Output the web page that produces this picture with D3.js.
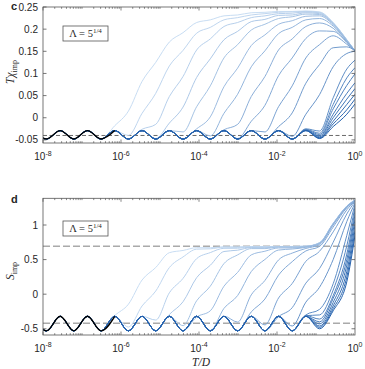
<!DOCTYPE html>
<html>
<head>
<script src="https://d3js.org/d3.v7.min.js"></script>
<style>
  body { margin: 0; background: #fff; }
  text { font-family: "Liberation Sans", Arial, sans-serif; fill: #262626; }
  .math { font-family: "Liberation Serif", "Times New Roman", serif; }
</style>
</head>
<body>
<div id="chart"></div>
<script>
// log10(T/D) sample points: alternating peaks and troughs of the even/odd wiggle
const logT = [-8.26,-7.91,-7.56,-7.21,-6.86,-6.51,-6.16,-5.81,-5.46,-5.11,-4.76,-4.41,-4.06,
              -3.71,-3.36,-3.01,-2.66,-2.31,-1.96,-1.61,-1.26,-0.91,-0.56,-0.21,0];

// panel c: T chi_imp
const chiBase = [-0.029,-0.048,-0.029,-0.048,-0.029,-0.048,-0.029,-0.048,-0.029,-0.048,-0.029,-0.048,-0.029,
                 -0.048,-0.029,-0.048,-0.029,-0.048,-0.029,-0.048,-0.029,-0.048,-0.029,-0.048,-0.029];
const chiBlack = [-0.029,-0.048,-0.029,-0.048,-0.029,-0.048,-0.029];
// each curve leaves the common baseline, the tail holds the last values
const chiTails = [
  [-0.018,0.015,0.082,0.125,0.171,0.192,0.215,0.221,0.230,0.232,0.237,0.238,0.240,0.240,0.241,0.239,0.215,0.176,0.151],
  [-0.040,0.010,0.055,0.117,0.152,0.191,0.204,0.221,0.226,0.232,0.235,0.238,0.239,0.240,0.238,0.214,0.176,0.151],
  [-0.026,-0.015,0.048,0.093,0.153,0.178,0.206,0.215,0.226,0.230,0.235,0.236,0.239,0.237,0.214,0.176,0.151],
  [-0.047,-0.012,0.024,0.091,0.133,0.176,0.195,0.217,0.222,0.231,0.232,0.237,0.235,0.213,0.175,0.151],
  [-0.029,-0.032,0.025,0.072,0.135,0.165,0.198,0.211,0.224,0.228,0.234,0.233,0.212,0.175,0.151],
  [-0.048,-0.025,0.002,0.070,0.112,0.163,0.187,0.211,0.219,0.229,0.230,0.210,0.174,0.151],
  [-0.029,-0.041,0.010,0.053,0.115,0.151,0.190,0.204,0.221,0.224,0.207,0.173,0.151],
  [-0.048,-0.027,-0.015,0.048,0.093,0.153,0.178,0.206,0.214,0.202,0.171,0.151],
  [-0.029,-0.047,-0.008,0.028,0.095,0.135,0.179,0.196,0.195,0.170,0.151],
  [-0.029,-0.032,0.025,0.072,0.135,0.165,0.185,0.166,0.151],
  [-0.020,0.011,0.078,0.120,0.158,0.160,0.151],
  [-0.042,0.008,0.052,0.115,0.145,0.150],
  [-0.025,-0.030,0.045,0.110,0.130],
  [-0.026,-0.035,0.030,0.090,0.113],
  [-0.027,-0.038,0.020,0.073,0.099],
  [-0.028,-0.041,0.008,0.055,0.079],
  [-0.028,-0.043,0.000,0.042,0.066],
  [-0.029,-0.045,-0.008,0.030,0.053],
  [-0.029,-0.046,-0.014,0.018,0.042],
  [-0.029,-0.047,-0.020,0.008,0.031]
];
const chiDash = [-0.04];
const chiTicks = [-0.05,0,0.05,0.1,0.15,0.2,0.25];
const chiTickLabels = ["-0.05","0","0.05","0.1","0.15","0.2","0.25"];

// panel d: S_imp
const sBase = [-0.32,-0.53,-0.32,-0.53,-0.32,-0.53,-0.32,-0.53,-0.32,-0.53,-0.32,-0.53,-0.32,
               -0.53,-0.32,-0.53,-0.32,-0.53,-0.32,-0.53,-0.32,-0.53,-0.32,-0.53,-0.32];
const sBlack = [-0.32,-0.53,-0.32,-0.53,-0.32,-0.53,-0.32];
const sTails = [
  [-0.31,-0.145,0.205,0.385,0.60,0.632,0.672,0.672,0.684,0.684,0.689,0.689,0.690,0.690,0.694,0.745,1.025,1.275,1.365],
  [-0.475,-0.17,0.045,0.385,0.538,0.651,0.656,0.68,0.677,0.687,0.686,0.689,0.689,0.693,0.743,1.023,1.273,1.363],
  [-0.32,-0.374,0.02,0.228,0.514,0.601,0.663,0.664,0.681,0.681,0.688,0.688,0.692,0.742,1.02,1.27,1.36],
  [-0.528,-0.293,-0.11,0.239,0.418,0.617,0.636,0.674,0.671,0.685,0.684,0.69,0.74,1.02,1.27,1.36],
  [-0.32,-0.455,-0.095,0.116,0.442,0.568,0.659,0.659,0.682,0.678,0.688,0.738,1.018,1.268,1.36],
  [-0.53,-0.33,-0.24,0.115,0.315,0.568,0.621,0.668,0.668,0.686,0.735,1.015,1.267,1.36],
  [-0.32,-0.525,-0.205,-0.02,0.327,0.502,0.638,0.653,0.677,0.728,1.01,1.265,1.358],
  [-0.53,-0.317,-0.403,-0.01,0.198,0.495,0.594,0.661,0.715,1.0,1.26,1.355],
  [-0.32,-0.527,-0.256,-0.07,0.276,0.47,0.625,0.69,0.97,1.25,1.35],
  [-0.32,-0.443,-0.055,0.155,0.475,0.62,0.9,1.22,1.345],
  [-0.325,-0.195,0.16,0.37,0.75,1.16,1.34],
  [-0.46,-0.115,0.10,0.5,1.05,1.32],
  [-0.30,-0.22,0.15,0.85,1.30],
  [-0.31,-0.30,0.06,0.70,1.26],
  [-0.31,-0.36,-0.02,0.58,1.21],
  [-0.32,-0.40,-0.06,0.50,1.15],
  [-0.32,-0.43,-0.12,0.42,1.08],
  [-0.32,-0.46,-0.17,0.33,1.00],
  [-0.32,-0.48,-0.21,0.25,0.92],
  [-0.32,-0.50,-0.24,0.18,0.85]
];
const sDash = [0.693, -0.42];
const sTicks = [-0.5,0,0.5,1];
const sTickLabels = ["-0.5","0","0.5","1"];

const xExp = [-8,-6,-4,-2,0];

const svg = d3.select("#chart").append("svg")
    .attr("width", 365)
    .attr("height", 369);

const x = d3.scaleLog().domain([1e-8, 1]).range([43, 355]);
const blue = d3.interpolateRgb("#c8ddf3", "#2461ad");

function drawPanel(p) {
  const y = d3.scaleLinear().domain(p.ydom).range([p.bottom, p.top]);
  const g = svg.append("g");

  svg.append("clipPath").attr("id", "clip" + p.id)
    .append("rect")
    .attr("x", x.range()[0]).attr("y", p.top)
    .attr("width", x.range()[1] - x.range()[0]).attr("height", p.bottom - p.top);

  const plot = g.append("g").attr("clip-path", `url(#clip${p.id})`);

  plot.selectAll(".dash").data(p.dash).enter().append("line")
    .attr("x1", x.range()[0]).attr("x2", x.range()[1])
    .attr("y1", d => y(d)).attr("y2", d => y(d))
    .attr("stroke", p.dashColor).attr("stroke-width", p.dashWidth)
    .attr("stroke-dasharray", p.dashArray);

  const line = d3.line()
    .x((d, i) => x(Math.pow(10, logT[i])))
    .y(d => y(d))
    .curve(d3.curveMonotoneX);

  const series = p.tails.map(t => p.base.slice(0, logT.length - t.length).concat(t));
  const n = series.length;
  plot.selectAll(".curve").data(series).enter().append("path")
    .attr("d", line)
    .attr("fill", "none")
    .attr("stroke", (d, i) => blue(i / (n - 1)))
    .attr("stroke-width", 1);

  plot.append("path")
    .attr("d", line(p.black))
    .attr("fill", "none")
    .attr("stroke", "#000")
    .attr("stroke-width", 1.4);

  // box and ticks (inside, mirrored like matlab)
  const [x0, x1] = x.range();
  g.append("rect")
    .attr("x", x0).attr("y", p.top)
    .attr("width", x1 - x0).attr("height", p.bottom - p.top)
    .attr("fill", "none").attr("stroke", "#555").attr("stroke-width", 0.8);

  p.ticks.forEach(v => {
    g.append("line").attr("x1", x0).attr("x2", x0 + 3.5).attr("y1", y(v)).attr("y2", y(v))
      .attr("stroke", "#555").attr("stroke-width", 0.8);
    g.append("line").attr("x1", x1).attr("x2", x1 - 3.5).attr("y1", y(v)).attr("y2", y(v))
      .attr("stroke", "#555").attr("stroke-width", 0.8);
  });
  g.selectAll(".ylab").data(p.ticks).enter().append("text")
    .attr("x", 38).attr("y", d => y(d)).attr("dy", "0.35em")
    .attr("text-anchor", "end").attr("font-size", 10)
    .text((d, i) => p.tickLabels[i]);

  for (let e = -8; e < 0; e++) {
    for (let m = 1; m < 10; m++) {
      const xv = x(m * Math.pow(10, e));
      const len = (m === 1 && e % 2 === 0) ? 3.5 : 1.8;
      g.append("line").attr("x1", xv).attr("x2", xv).attr("y1", p.bottom).attr("y2", p.bottom - len)
        .attr("stroke", "#555").attr("stroke-width", 0.7);
      g.append("line").attr("x1", xv).attr("x2", xv).attr("y1", p.top).attr("y2", p.top + len)
        .attr("stroke", "#555").attr("stroke-width", 0.7);
    }
  }
  xExp.forEach(e => {
    const t = g.append("text")
      .attr("x", x(Math.pow(10, e))).attr("y", p.xLabelY)
      .attr("text-anchor", "middle").attr("font-size", 10);
    t.append("tspan").text("10");
    t.append("tspan").attr("dy", -4.5).attr("font-size", 7).text(String(e));
  });

  // legend box
  g.append("rect")
    .attr("x", 63).attr("y", p.legendY)
    .attr("width", 45).attr("height", 15)
    .attr("fill", "#fff").attr("stroke", "#555").attr("stroke-width", 0.8);
  const lt = g.append("text").attr("class", "math")
    .attr("x", 85.5).attr("y", p.legendY + 11)
    .attr("text-anchor", "middle").attr("font-size", 10.5);
  lt.append("tspan").text("\u039B = 5");
  lt.append("tspan").attr("dy", -4).attr("font-size", 7).text("1/4");

  // panel letter
  g.append("text").attr("x", 11).attr("y", p.letterY)
    .attr("font-size", 11).attr("font-weight", "bold").attr("fill", "#000")
    .text(p.letter);

  // y label
  const yl = g.append("text").attr("class", "math")
    .attr("transform", `translate(14,${p.yLabelMid}) rotate(-90)`)
    .attr("text-anchor", "middle").attr("font-size", 11.5);
  p.yLabel(yl);
}

drawPanel({
  id: "c", top: 7, bottom: 143, ydom: [-0.057, 0.25],
  base: chiBase, tails: chiTails, black: chiBlack,
  dash: chiDash, dashColor: "#5a5a5a", dashWidth: 0.9, dashArray: "4,2.5",
  ticks: chiTicks, tickLabels: chiTickLabels,
  xLabelY: 160, legendY: 26, letter: "c", letterY: 10, yLabelMid: 72,
  yLabel: t => {
    t.append("tspan").attr("font-style", "italic").text("T\u03C7");
    t.append("tspan").attr("dy", 3).attr("font-size", 8).text("imp");
  }
});

drawPanel({
  id: "d", top: 198.3, bottom: 335, ydom: [-0.59, 1.386],
  base: sBase, tails: sTails, black: sBlack,
  dash: sDash, dashColor: "#aaaaaa", dashWidth: 1.5, dashArray: "7,3",
  ticks: sTicks, tickLabels: sTickLabels,
  xLabelY: 351.5, legendY: 221, letter: "d", letterY: 202.5, yLabelMid: 271,
  yLabel: t => {
    t.append("tspan").attr("font-style", "italic").text("S");
    t.append("tspan").attr("dy", 3).attr("font-size", 8).text("imp");
  }
});

svg.append("text").attr("class", "math")
  .attr("x", 201).attr("y", 365.5)
  .attr("text-anchor", "middle").attr("font-size", 11.5).attr("font-style", "italic")
  .text("T/D");
</script>
</body>
</html>
